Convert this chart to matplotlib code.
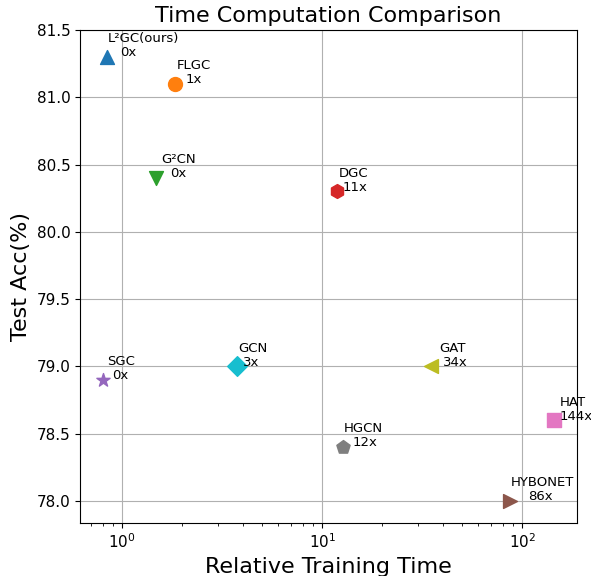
import matplotlib
matplotlib.use("Agg")
import matplotlib.pyplot as plt

# values
models = ["L²GC(ours)", "FLGC", "G²CN", "DGC", "SGC", "GCN", "GAT", "HAT", "HGCN", "HYBONET"]
rel_time = [0.84, 1.85, 1.48, 11.9, 0.80, 3.75, 34.8, 144.5, 12.7, 86.8]
test_acc = [81.3, 81.1, 80.4, 80.3, 78.9, 79.0, 79.0, 78.6, 78.4, 78.0]
ratio_labels = ["0x", "1x", "0x", "11x", "0x", "3x", "34x", "144x", "12x", "86x"]

markers = ["^", "o", "v", "h", "*", "D", "<", "s", "p", ">"]
colors = ["tab:blue", "tab:orange", "tab:green", "tab:red", "tab:purple",
          "tab:cyan", "tab:olive", "tab:pink", "tab:gray", "tab:brown"]
# pixel offsets of the name / ratio text from each marker
name_dx = [0.6, 1.7, 4.7, 1.0, 4.6, 1.0, 8.3, 5.3, 0.6, 1.0]
ratio_dx = [13.3, 10.0, 14.0, 5.4, 9.3, 5.6, 12.6, 5.3, 9.3, 17.7]

fig = plt.figure(figsize=(5.91, 5.76), dpi=100)
ax = fig.add_axes([80 / 591, 1 - 523 / 576, 497 / 591, 493 / 576])

for i, name in enumerate(models):
    ax.scatter(rel_time[i], test_acc[i], marker=markers[i], color=colors[i],
               s=100, zorder=3)
    ax.annotate(name, (rel_time[i], test_acc[i]), xytext=(name_dx[i], 14.5),
                textcoords="offset pixels", fontsize=9.5, va="baseline", ha="left")
    ax.annotate(ratio_labels[i], (rel_time[i], test_acc[i]), xytext=(ratio_dx[i], 0.5),
                textcoords="offset pixels", fontsize=9.5, va="baseline", ha="left")

ax.set_xscale("log")
ax.set_ylim(77.835, 81.5)
ax.grid(True, which="major", color="#b0b0b0", lw=0.8)
ax.set_axisbelow(True)
ax.tick_params(labelsize=11)
ax.set_xlabel("Relative Training Time", fontsize=16)
ax.set_ylabel("Test Acc(%)", fontsize=16)
ax.set_title("Time Computation Comparison", fontsize=16)

fig.savefig("out.png", dpi=100)
